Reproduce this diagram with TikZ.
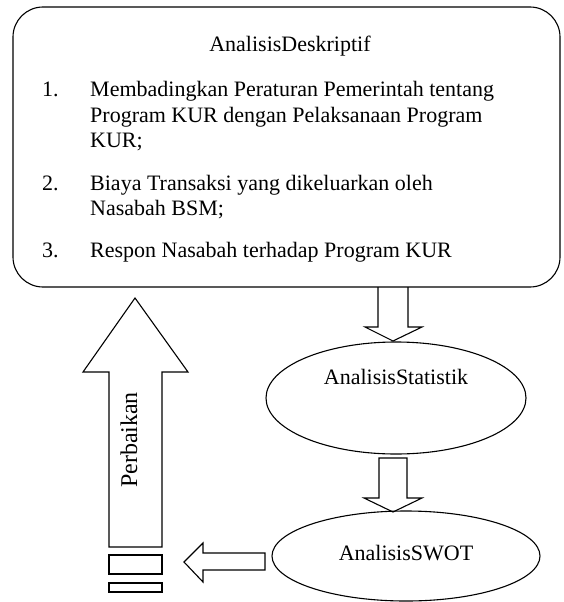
\documentclass[tikz,border=0pt]{standalone}
\usepackage{fontspec}
\setmainfont{Liberation Serif}
\usetikzlibrary{shapes.geometric}
\begin{document}
\begin{tikzpicture}[x=1pt,y=-1pt,
  ln/.style={line width=1.1pt, draw=black, line join=miter},
  txt/.style={font=\fontsize{22}{26}\selectfont, inner sep=0pt, anchor=base west},
  ctxt/.style={font=\fontsize{22}{26}\selectfont, inner sep=0pt, anchor=base},
  ell/.style={ellipse, ln, inner sep=0pt}
]
\useasboundingbox (0,0) rectangle (563,602);
% descriptive box
\node[ln, rounded corners=30pt, minimum width=547pt, minimum height=280pt, inner sep=0pt] (desc) at (286.5,147) {};
\node[ctxt] (title) at (290,52) {AnalisisDeskriptif};
\node[txt] (n1) at (42,96) {1.};
\node[txt] (t1a) at (90,96) {Membadingkan Peraturan Pemerintah tentang};
\node[txt] (t1b) at (90,122) {Program KUR dengan Pelaksanaan Program};
\node[txt] (t1c) at (90,147) {KUR;};
\node[txt] (n2) at (42,190) {2.};
\node[txt] (t2a) at (90,190) {Biaya Transaksi yang dikeluarkan oleh};
\node[txt] (t2b) at (90,215) {Nasabah BSM;};
\node[txt] (n3) at (42,257) {3.};
\node[txt] (t3) at (90,257) {Respon Nasabah terhadap Program KUR};
% ellipses
\node[ell, minimum width=260pt, minimum height=112pt] (stat) at (396,398) {};
\node[ctxt] (statt) at (396,384) {AnalisisStatistik};
\node[ell, minimum width=268pt, minimum height=90pt] (swot) at (406,556) {};
\node[ctxt] (swott) at (406,560) {AnalisisSWOT};
% down arrows
\draw[ln] (378,287) -- (378,327) -- (365,327) -- (393,341) -- (422,327) -- (408,327) -- (408,287);
\draw[ln] (379,458) -- (379,498) -- (364,498) -- (393,512) -- (422,498) -- (407,498) -- (407,458) -- cycle;
% left arrow
\draw[ln] (265,553) -- (203,553) -- (203,543) -- (184,562) -- (203,582) -- (203,570) -- (265,570) -- cycle;
% up arrow
\draw[ln] (109,547) -- (109,372) -- (83,372) -- (135,298) -- (188,372) -- (162,372) -- (162,547) -- cycle;
\node[ctxt, font=\fontsize{24}{28}\selectfont, rotate=90, anchor=center] (perb) at (129,440) {Perbaikan};
% bars
\draw[ln] (109,555) rectangle (162,574);
\draw[ln] (109,583) rectangle (162,592);
\end{tikzpicture}
\end{document}
